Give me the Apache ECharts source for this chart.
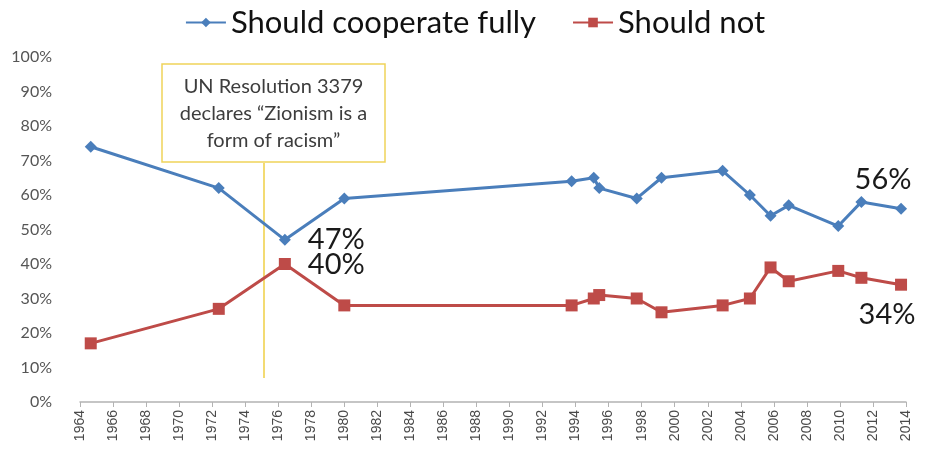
<!DOCTYPE html>
<html>
<head>
<meta charset="utf-8">
<script src="https://cdn.jsdelivr.net/npm/echarts@6/dist/echarts.min.js"></script>
<style>
  html, body { margin: 0; padding: 0; background: #fff; }
  #chart { width: 950px; height: 466px; }
</style>
</head>
<body>
<div id="chart"></div>
<script>
// Survey dates (fractional years) and shares of respondents, in percent
const surveyYears = [1964.65, 1972.4, 1976.4, 1980.0, 1993.76, 1995.1, 1995.43, 1997.7, 1999.2, 2002.9, 2004.55, 2005.8, 2006.9, 2009.9, 2011.3, 2013.7];
const cooperateFully = [74, 62, 47, 59, 64, 65, 62, 59, 65, 67, 60, 54, 57, 51, 58, 56];
const shouldNot = [17, 27, 40, 28, 28, 30, 31, 30, 26, 28, 30, 39, 35, 38, 36, 34];
const yTicks = [0, 10, 20, 30, 40, 50, 60, 70, 80, 90, 100];

// Points whose values are written beside them: index -> label position / offset
const blueCallouts = { 2: { position: 'right', offset: [12, 0] }, 15: { position: 'top', offset: [-18, -4] } };
const redCallouts = { 2: { position: 'right', offset: [12, 1] }, 15: { position: 'bottom', offset: [-14, 4] } };

const BLUE = '#4a7ebb';
const RED = '#be4b48';
const FONT = 'Lato, "Noto Sans", sans-serif';

function buildData(values, callouts) {
  return values.map((v, i) => {
    const item = { value: [surveyYears[i], v] };
    if (callouts[i]) {
      item.label = {
        show: true,
        position: callouts[i].position,
        offset: callouts[i].offset,
        formatter: v + '%',
        fontSize: 29,
        fontFamily: FONT,
        color: '#1a1a1a'
      };
    }
    return item;
  });
}

const chart = echarts.init(document.getElementById('chart'));
chart.setOption({
  animation: false,
  backgroundColor: '#fff',
  legend: {
    top: 2,
    left: 'center',
    itemWidth: 40,
    itemHeight: 12,
    itemGap: 36,
    textStyle: { fontSize: 31, fontFamily: FONT, color: '#111' },
    data: ['Should cooperate fully', 'Should not']
  },
  grid: { left: 80, right: 44, top: 57, bottom: 64 },
  xAxis: {
    type: 'value',
    min: 1964,
    max: 2014,
    interval: 2,
    axisLine: { show: true, lineStyle: { color: '#b3b3b3', width: 1.5 } },
    axisTick: { show: true, length: 5, lineStyle: { color: '#b3b3b3' } },
    splitLine: { show: false },
    axisLabel: {
      rotate: 90,
      margin: 8,
      fontSize: 14,
      fontFamily: '"Liberation Sans", Arial, sans-serif',
      color: '#4a4a4a',
      formatter: v => String(v)
    }
  },
  yAxis: {
    type: 'value',
    min: yTicks[0],
    max: yTicks[yTicks.length - 1],
    interval: 10,
    axisLine: { show: false },
    axisTick: { show: false },
    splitLine: { show: false },
    axisLabel: {
      margin: 28,
      fontSize: 16,
      fontFamily: FONT,
      color: '#555',
      formatter: v => v + '%'
    }
  },
  series: [
    {
      name: 'Should cooperate fully',
      type: 'line',
      symbol: 'diamond',
      symbolSize: 12,
      itemStyle: { color: BLUE },
      lineStyle: { color: BLUE, width: 3 },
      data: buildData(cooperateFully, blueCallouts),
      z: 3
    },
    {
      name: 'Should not',
      type: 'line',
      symbol: 'rect',
      symbolSize: 12,
      itemStyle: { color: RED },
      lineStyle: { color: RED, width: 3 },
      data: buildData(shouldNot, redCallouts),
      z: 3
    }
  ],
  graphic: [
    {
      type: 'line',
      shape: { x1: 264, y1: 163, x2: 264, y2: 378 },
      style: { stroke: '#efcf45', lineWidth: 1.5 },
      z: 1
    },
    {
      type: 'rect',
      shape: { x: 162, y: 64, width: 223, height: 98 },
      style: { fill: '#fff', stroke: '#f0d35a', lineWidth: 1.5 },
      z: 5
    },
    {
      type: 'text',
      x: 273.5,
      y: 114,
      style: {
        text: 'UN Resolution 3379\ndeclares \u201cZionism is a\nform of racism\u201d',
        fill: '#3d3d3d',
        font: '20px ' + FONT,
        align: 'center',
        verticalAlign: 'middle',
        lineHeight: 27
      },
      z: 6
    }
  ]
});
</script>
</body>
</html>
